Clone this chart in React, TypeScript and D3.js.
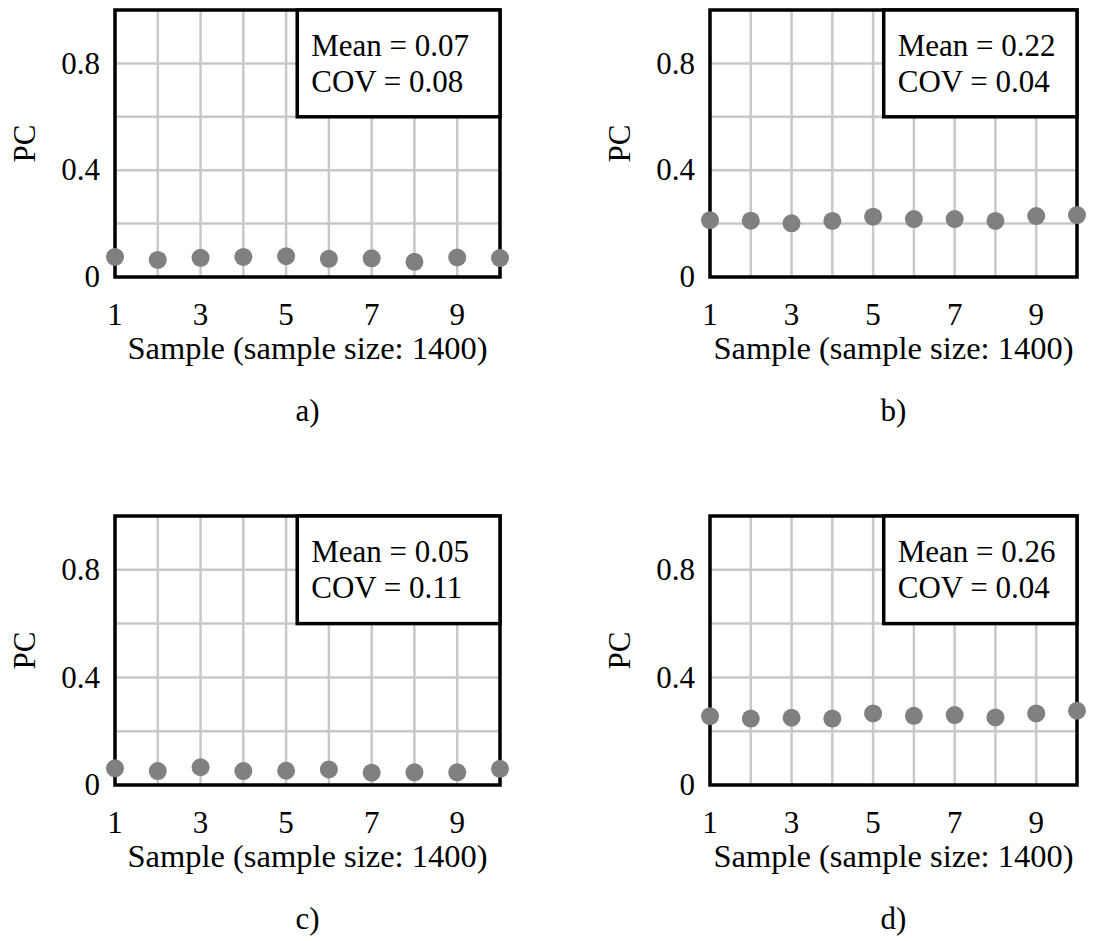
import React from "react";
import * as d3 from "d3";

const samples = [1, 2, 3, 4, 5, 6, 7, 8, 9, 10];
const xTicks = [1, 3, 5, 7, 9];
const yTicks = [0, 0.4, 0.8];
const yGrid = [0.2, 0.4, 0.6, 0.8];

const pcA = [0.075, 0.064, 0.072, 0.075, 0.078, 0.068, 0.07, 0.057, 0.073, 0.071];
const pcB = [0.213, 0.211, 0.201, 0.21, 0.226, 0.217, 0.217, 0.21, 0.228, 0.232];
const pcC = [0.062, 0.052, 0.066, 0.052, 0.053, 0.058, 0.046, 0.047, 0.047, 0.06];
const pcD = [0.256, 0.247, 0.25, 0.247, 0.266, 0.257, 0.26, 0.251, 0.266, 0.276];

const means = ["0.07", "0.22", "0.05", "0.26"];
const covs = ["0.08", "0.04", "0.11", "0.04"];
const panelLabels = ["a)", "b)", "c)", "d)"];

const FONT = "'Liberation Serif', 'Times New Roman', serif";

type PanelProps = {
  left: number;
  right: number;
  top: number;
  bottom: number;
  values: number[];
  mean: string;
  cov: string;
  label: string;
};

function Panel({ left, right, top, bottom, values, mean, cov, label }: PanelProps) {
  const x = d3.scaleLinear().domain([1, 10]).range([left, right]);
  const y = d3.scaleLinear().domain([0, 1]).range([bottom, top]);
  const cx = (left + right) / 2;
  const cy = (top + bottom) / 2;
  const boxLeft = x(5.26);
  return (
    <g fontFamily={FONT} fill="#000">
      {samples.map((s) => (
        <line key={"vx" + s} x1={x(s)} x2={x(s)} y1={y(1)} y2={y(0)} stroke="#c8c8c8" strokeWidth={2.5} />
      ))}
      {yGrid.map((v) => (
        <line key={"hy" + v} x1={x(1)} x2={x(10)} y1={y(v)} y2={y(v)} stroke="#c8c8c8" strokeWidth={2.5} />
      ))}
      <rect x={left} y={top} width={right - left} height={bottom - top} fill="none" stroke="#000" strokeWidth={3.5} />
      <rect
        x={boxLeft}
        y={y(1)}
        width={x(10) - boxLeft}
        height={y(0.6) - y(1)}
        fill="#fff"
        stroke="#000"
        strokeWidth={3.5}
      />
      <text x={boxLeft + 14} y={y(1) + 46} fontSize={31}>{`Mean = ${mean}`}</text>
      <text x={boxLeft + 14} y={y(1) + 82} fontSize={31}>{`COV = ${cov}`}</text>
      {values.map((v, i) => (
        <circle key={"p" + i} cx={x(samples[i])} cy={y(v)} r={9} fill="#808080" />
      ))}
      {yTicks.map((t) => (
        <text key={"yt" + t} x={left - 15} y={y(t)} dy="0.33em" textAnchor="end" fontSize={31}>
          {d3.format("~g")(t)}
        </text>
      ))}
      {xTicks.map((t) => (
        <text key={"xt" + t} x={x(t)} y={bottom + 48} textAnchor="middle" fontSize={31}>
          {t}
        </text>
      ))}
      <text x={cx} y={bottom + 82} textAnchor="middle" fontSize={32.5}>
        Sample (sample size: 1400)
      </text>
      <text
        transform={`translate(${left - 80},${cy}) rotate(-90)`}
        textAnchor="middle"
        fontSize={31}
      >
        PC
      </text>
      <text x={cx} y={bottom + 144} textAnchor="middle" fontSize={31}>
        {label}
      </text>
    </g>
  );
}

export default function App() {
  const panels = [
    { left: 115, right: 500, top: 10, bottom: 277, values: pcA },
    { left: 710, right: 1077, top: 10, bottom: 277, values: pcB },
    { left: 115, right: 500, top: 516, bottom: 785, values: pcC },
    { left: 710, right: 1077, top: 516, bottom: 785, values: pcD },
  ];
  return (
    <svg
      width={1105}
      height={941}
      style={{ position: "absolute", left: 0, top: 0, background: "#fff" }}
    >
      <rect width={1105} height={941} fill="#fff" />
      {panels.map((p, i) => (
        <Panel key={i} {...p} mean={means[i]} cov={covs[i]} label={panelLabels[i]} />
      ))}
    </svg>
  );
}
